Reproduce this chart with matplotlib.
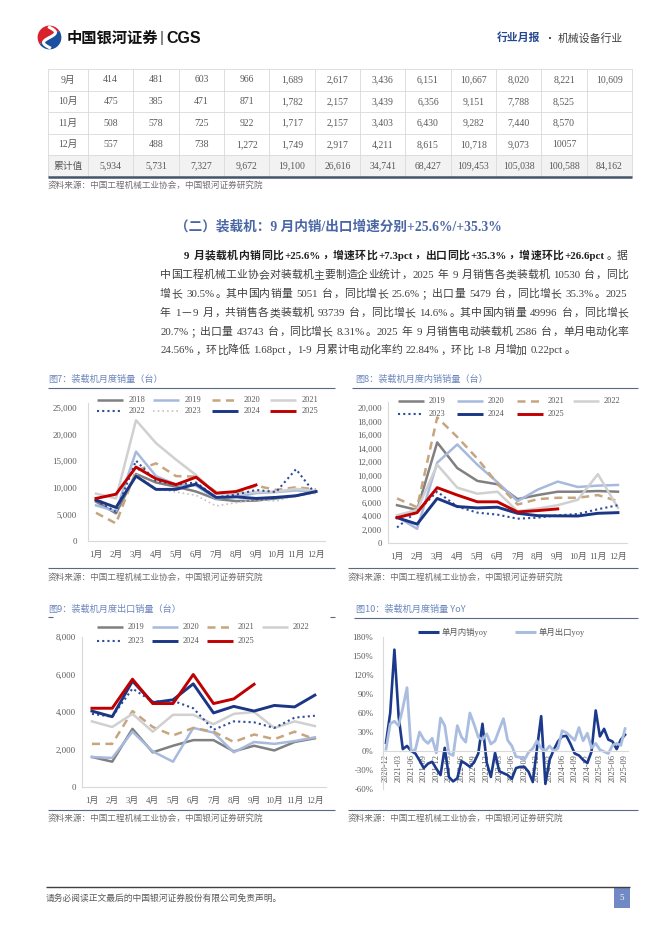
import numpy as np
import matplotlib
matplotlib.use("Agg")
import matplotlib.pyplot as plt
from matplotlib.lines import Line2D
from matplotlib.patches import Rectangle, Wedge

W, H, DPI = 662, 936, 100
SERIF = ["Liberation Serif", "Noto Sans CJK SC", "DejaVu Sans"]
CJK = ["Noto Sans CJK SC", "DejaVu Sans"]
plt.rcParams["font.family"] = SERIF

# ---------------- data ----------------
table_rows = ["9月", "10月", "11月", "12月", "累计值"]
table_sep = ["414", "481", "603", "966", "1,689", "2,617", "3,436", "6,151", "10,667", "8,020", "8,221", "10,609"]
table_oct = ["475", "385", "471", "871", "1,782", "2,157", "3,439", "6,356", "9,151", "7,788", "8,525", ""]
table_nov = ["508", "578", "725", "922", "1,717", "2,157", "3,403", "6,430", "9,282", "7,440", "8,570", ""]
table_dec = ["557", "488", "738", "1,272", "1,749", "2,917", "4,211", "8,615", "10,718", "9,073", "10057", ""]
table_cum = ["5,934", "5,731", "7,327", "9,672", "19,100", "26,616", "34,741", "68,427", "109,453", "105,038", "100,588", "84,162"]

months = ["1月", "2月", "3月", "4月", "5月", "6月", "7月", "8月", "9月", "10月", "11月", "12月"]

# Fig7 total sales
t2018 = [7400, 5200, 12600, 11000, 10200, 9300, 7900, 7500, 7600, 8000, 8500, 9300]
t2019 = [6700, 5600, 16800, 12200, 10600, 10400, 8000, 8300, 9000, 9200, 9500, 9300]
t2020 = [5300, 3300, 13200, 14600, 12200, 12100, 9200, 9000, 10400, 9600, 10100, 9700]
t2021 = [8900, 8000, 22700, 18400, 15300, 12400, 8900, 8900, 9200, 9300, 9800, 9400]
t2022 = [7600, 5500, 15100, 11300, 10600, 11000, 8200, 8700, 9600, 9200, 13500, 8700]
t2023 = [7900, 6400, 12600, 9800, 9200, 8600, 6600, 7200, 7800, 7500, 8500, 9000]
t2024 = [7700, 6300, 12200, 9700, 9700, 10700, 8200, 8300, 8000, 8200, 8500, 9300]
t2025 = [8000, 8800, 13900, 11700, 10600, 12000, 9000, 9300, 10530]

# Fig8 domestic sales
d2019 = [5600, 4900, 14900, 11100, 9200, 8700, 6500, 7100, 7600, 7600, 7700, 7600]
d2020 = [3900, 2100, 11900, 14600, 11600, 9000, 6200, 7900, 9100, 8300, 8500, 8600]
d2021 = [6600, 5300, 18600, 15700, 12500, 8800, 5700, 6500, 6700, 6700, 7100, 6200]
d2022 = [4100, 4900, 11600, 8200, 7300, 7600, 4700, 5100, 5600, 6400, 10200, 5200]
d2023 = [2300, 4700, 7600, 5400, 4500, 4200, 3600, 3750, 4100, 4300, 5000, 5600]
d2024 = [3750, 2800, 6600, 5400, 5200, 5300, 4400, 4050, 4020, 4000, 4400, 4500]
d2025 = [3750, 4500, 8200, 7100, 6100, 6100, 4600, 4800, 5051]

# Fig9 export sales
e2019 = [1600, 1350, 3100, 1850, 2200, 2500, 2500, 1900, 2200, 1950, 2400, 2600]
e2020 = [1600, 1550, 2950, 1900, 1350, 3150, 2900, 1850, 2400, 2300, 2450, 2650]
e2021 = [2300, 2300, 4050, 3200, 2750, 3150, 2950, 2400, 2800, 2550, 2950, 2550]
e2022 = [3500, 3200, 3900, 2950, 3850, 3850, 3350, 3900, 4000, 3150, 3500, 3250]
e2023 = [3900, 3750, 5250, 4550, 4600, 4200, 3050, 3500, 3450, 3150, 3700, 3800]
e2024 = [4050, 3750, 5650, 4500, 4650, 5500, 3950, 4300, 4050, 4350, 4270, 4900]
e2025 = [4200, 4200, 5750, 4450, 4450, 6000, 4450, 4700, 5479]

# Fig10 YoY (%), 2020-12 ... 2025-09
yoy_labels = ["2020-12", "2021-03", "2021-06", "2021-09", "2021-12", "2022-03", "2022-06",
              "2022-09", "2022-12", "2023-03", "2023-06", "2023-09", "2023-12", "2024-03",
              "2024-06", "2024-09", "2024-12", "2025-03", "2025-06", "2025-09"]
dom_yoy = [13, 60, 160, 55, 3, 8, 0, -4, -15, -27, -20, -17, -28,
           -38, 5, -41, -48, -43, -16, -20, -25, -18, -4, 43, -18,
           -41, -3, -32, -35, -38, -44, -27, -25, -25, -33, -49, 4,
           55, -52, -14, 2, 15, 23, 24, 11, -4, -7, -14, -19,
           -1, 64, 23, 35, 18, 15, 3, 18, 25.6]
exp_yoy = [3, 43, 47, 40, 68, 100, 0, 2, 30, 18, 12, 20, -3,
           52, 40, -4, -7, 40, 22, 14, 60, 42, 22, 18, 27,
           11, 16, 34, 51, 17, 8, -9, -10, -14, -2, 4, 16,
           4, 0, 8, 0, 4, 32, 29, 23, 17, 37, 16, 28,
           5, 12, 2, -1, -4, 9, 12, 9, 35.3]

PARA = [
    [("9 月装载机内销同比+25.6%，增速环比+7.3pct，出口同比+35.3%，增速环比+26.6pct", True), ("。据", False)],
    [("中国工程机械工业协会对装载机主要制造企业统计，2025 年 9 月销售各类装载机 10530 台，同比", False)],
    [("增长 30.5%。其中国内销量 5051 台，同比增长 25.6%；出口量 5479 台，同比增长 35.3%。2025", False)],
    [("年 1—9 月，共销售各类装载机 93739 台，同比增长 14.6%。其中国内销量 49996 台，同比增长", False)],
    [("20.7%；出口量 43743 台，同比增长 8.31%。2025 年 9 月销售电动装载机 2586 台，单月电动化率", False)],
    [("24.56%，环比降低 1.68pct，1-9 月累计电动化率约 22.84%，环比 1-8 月增加 0.22pct。", False)],
]

# ---------------- styles ----------------
ST = {
    "gray": dict(color="#808080", lw=1.8),
    "lblue": dict(color="#a7badd", lw=1.8),
    "tan": dict(color="#c6a57f", lw=1.8, ls=(0, (3.2, 2.2))),
    "lgray": dict(color="#d0d0d0", lw=1.8),
    "ndot": dict(color="#2c4c9c", lw=1.5, ls=(0, (1, 1.5))),
    "gdot": dict(color="#c2c2c2", lw=1.2, ls=(0, (1, 1.8))),
    "navy": dict(color="#1a3685", lw=2.1),
    "red": dict(color="#c00000", lw=2.1),
}
TICKC = "#595959"

fig = plt.figure(figsize=(W / DPI, H / DPI), dpi=DPI)
page = fig.add_axes([0, 0, 1, 1])
page.set_xlim(0, W)
page.set_ylim(H, 0)
page.axis("off")


def hline(x0, x1, y, color, lw):
    page.add_line(Line2D([x0, x1], [y, y], color=color, lw=lw, solid_capstyle="butt"))


def txt(x, y, s, size, color="#404040", ha="left", va="center", weight="normal", family=SERIF, **kw):
    return page.text(x, y, s, fontsize=size, color=color, ha=ha, va=va,
                     fontweight=weight, family=family, **kw)


# ---------------- header ----------------
lax = fig.add_axes([37 / W, 1 - 50 / H, 25 / W, 25 / H])
lax.set_xlim(-1.05, 1.05)
lax.set_ylim(-1.05, 1.05)
lax.set_aspect("equal")
lax.axis("off")
lax.add_patch(Wedge((0, 0), 1, 35, 215, color="#d8232d", lw=0))
lax.add_patch(Wedge((0, 0), 1, 215, 395, color="#1d4f9f", lw=0))
ss = np.linspace(-np.pi, np.pi, 60)
lax.plot(-0.5 * np.sin(ss), np.linspace(0.85, -0.85, 60), color="white", lw=2.2)

txt(67, 38, "中国银河证券", 11, "#111111", weight="bold", family=CJK)
txt(160, 38, "|", 11, "#444444", family=["Liberation Sans"])
txt(166, 38.5, "CGS", 11.5, "#111111", weight="bold", family=["Liberation Sans"])
txt(497, 38, "行业月报", 7.8, "#24478f", weight="bold", family=CJK)
page.add_patch(Rectangle((548.5, 37), 2, 2, color="#555555", lw=0))
txt(558, 38, "机械设备行业", 7.8, "#404040", family=CJK)

# ---------------- table ----------------
table_vals = [table_sep, table_oct, table_nov, table_dec, table_cum]
col_edges = [48, 88] + [88 + (632 - 88) / 12 * k for k in range(1, 13)]
row_edges = [69, 91, 112, 134, 155, 177]
page.add_patch(Rectangle((48, row_edges[4]), 584, row_edges[5] - row_edges[4], color="#f2f2f2", lw=0))
for y in row_edges[:-1]:
    hline(48, 632, y, "#d9d9d9", 0.6)
for x in col_edges:
    page.add_line(Line2D([x, x], [row_edges[0], row_edges[-1]], color="#d9d9d9", lw=0.6))
hline(48, 632, row_edges[-1], "#44546a", 1.8)
for r, (lab, vals) in enumerate(zip(table_rows, table_vals)):
    yc = (row_edges[r] + row_edges[r + 1]) / 2
    txt((col_edges[0] + col_edges[1]) / 2, yc, lab, 7, TICKC, ha="center")
    for c, v in enumerate(vals):
        txt((col_edges[c + 1] + col_edges[c + 2]) / 2, yc, v, 7, TICKC, ha="center")

SRC = "资料来源：中国工程机械工业协会，中国银河证券研究院"
txt(48, 185, SRC, 6.2, "#6f6f6f", family=CJK)

# ---------------- heading + paragraph ----------------
txt(175, 227, "（二）装载机：9 月内销/出口增速分别+25.6%/+35.3%", 9.8, "#4a67a5", weight="bold")

renderer = fig.canvas.get_renderer()
PSIZE = 7.8
PX = PSIZE * DPI / 72.0


def tokenize(segs):
    out = []
    for s, b in segs:
        buf = ""
        for ch in s:
            if ch == " ":
                if buf:
                    out.append((buf, b, "lat"))
                    buf = ""
                out.append((" ", b, "sp"))
            elif ord(ch) >= 0x2000:
                if buf:
                    out.append((buf, b, "lat"))
                    buf = ""
                out.append((ch, b, "cjk"))
            else:
                buf += ch
        if buf:
            out.append((buf, b, "lat"))
    return out


def para_line(x0, x1, yc, segs, justify=True):
    toks = tokenize(segs)
    yb = yc + 0.36 * PX
    items = []
    for s, b, kind in toks:
        col = "#1f1f1f" if b else "#404040"
        wt = "bold" if b else "normal"
        if kind == "sp":
            items.append((None, 0.28 * PX, 0))
        elif kind == "cjk":
            if s in "，。；：、":
                t = page.text(0, yb, s, fontsize=PSIZE, color=col, fontweight=wt, family=CJK,
                              ha="left", va="baseline")
                items.append((t, PX, 0.06 * PX))
            else:
                t = page.text(0, yb, s, fontsize=PSIZE, color=col, fontweight=wt, family=CJK,
                              ha="center", va="baseline")
                items.append((t, PX, 0.5 * PX))
        else:
            t = page.text(0, yb, s, fontsize=PSIZE, color=col, fontweight=wt, family=SERIF,
                          ha="left", va="baseline")
            w = t.get_window_extent(renderer).width
            items.append((t, w + 0.12 * PX, 0.06 * PX))
    total = sum(w for _, w, _ in items)
    gap = (x1 - x0 - total) / (len(items) - 1) if justify else 0.0
    x = x0
    for t, w, off in items:
        if t is not None:
            t.set_x(x + off)
        x += w + gap


line_y = [255, 274, 293, 312, 331, 349.5]
for i, segs in enumerate(PARA):
    x0 = 183 if i == 0 else 160
    para_line(x0, 628, line_y[i], segs, justify=(i < len(PARA) - 1))


# ---------------- chart helpers ----------------
def add_ax(l, t, r, b):
    ax = fig.add_axes([l / W, 1 - b / H, (r - l) / W, (b - t) / H])
    ax.patch.set_alpha(0)
    for s in ["top", "right"]:
        ax.spines[s].set_visible(False)
    for s in ["left", "bottom"]:
        ax.spines[s].set_color("#d9d9d9")
        ax.spines[s].set_linewidth(0.8)
    ax.tick_params(length=0, colors=TICKC)
    return ax


def title_block(x, y, text, lx0, lx1, ly, ends_only=False):
    txt(x, y, text, 6.6, "#6d86bd", family=CJK)
    if ends_only:
        hline(lx0, lx0 + 5, ly, "#5a6a85", 0.8)
        hline(lx1 - 5, lx1, ly, "#5a6a85", 0.8)
    else:
        hline(lx0, lx1, ly, "#5a6a85", 0.8)


def source_block(x, y, lx0, lx1, ly):
    hline(lx0, lx1, ly, "#5a6a85", 0.8)
    txt(x, y, SRC, 6.2, "#6f6f6f", family=CJK)


def manual_legend(entries, xs, ys, length=26, off=31):
    k = 0
    for (lab, st) in entries:
        r, c = divmod(k, len(xs))
        x, y = xs[c], ys[r]
        page.add_line(Line2D([x, x + length], [y, y], solid_capstyle="butt", **ST[st]))
        txt(x + off, y, lab, 6.0, TICKC)
        k += 1


def year_chart(ax, series, ymax_tick, ystep, ylim, xlim, ypad, xpad):
    for lab, vals, st in series:
        ax.plot(np.arange(len(vals)), vals, solid_joinstyle="round", **ST[st])
    ax.set_xlim(*xlim)
    ax.set_ylim(*ylim)
    ax.set_xticks(np.arange(12))
    ax.set_xticklabels(months, fontsize=6.3, color=TICKC, family=SERIF)
    yt = np.arange(0, ymax_tick + 1, ystep)
    ax.set_yticks(yt)
    ax.set_yticklabels([f"{v:,}" for v in yt], fontsize=6.3, color=TICKC, family=SERIF)
    ax.tick_params(axis="y", pad=ypad)
    ax.tick_params(axis="x", pad=xpad)


# ---------------- Fig7 ----------------
title_block(48, 379, "图7：装载机月度销量（台）", 48, 335, 388)
ax7 = add_ax(88, 403, 325, 541)
s7 = [("2018", t2018, "gray"), ("2019", t2019, "lblue"), ("2020", t2020, "tan"),
      ("2021", t2021, "lgray"), ("2022", t2022, "ndot"), ("2023", t2023, "gdot"),
      ("2024", t2024, "navy"), ("2025", t2025, "red")]
year_chart(ax7, s7, 25000, 5000, (0, 25940), (-0.4, 11.45), 8, 7)
manual_legend([(a, c) for a, _, c in s7], [97, 153, 212, 270], [400, 411], off=32)
source_block(48, 577, 48, 335, 568)

# ---------------- Fig8 ----------------
title_block(355, 379, "图8：装载机月度内销销量（台）", 352, 638, 388)
ax8 = add_ax(388, 402, 627, 543)
s8 = [("2019", d2019, "gray"), ("2020", d2020, "lblue"), ("2021", d2021, "tan"),
      ("2022", d2022, "lgray"), ("2023", d2023, "ndot"), ("2024", d2024, "navy"),
      ("2025", d2025, "red")]
year_chart(ax8, s8, 20000, 2000, (0, 20890), (-0.45, 11.45), 4.5, 7)
manual_legend([(a, c) for a, _, c in s8], [398, 457, 517, 573], [401, 414])
source_block(348, 577, 348, 638, 568)

# ---------------- Fig9 ----------------
title_block(48, 609, "图9：装载机月度出口销量（台）", 48, 335, 617, ends_only=True)
ax9 = add_ax(82, 637, 326, 787)
s9 = [("2019", e2019, "gray"), ("2020", e2020, "lblue"), ("2021", e2021, "tan"),
      ("2022", e2022, "lgray"), ("2023", e2023, "ndot"), ("2024", e2024, "navy"),
      ("2025", e2025, "red")]
year_chart(ax9, s9, 8000, 2000, (0, 8000), (-0.49, 11.55), 4.5, 7)
manual_legend([(a, c) for a, _, c in s9], [97, 152, 207, 262], [627, 641])
source_block(48, 818, 48, 335, 810)

# ---------------- Fig10 ----------------
title_block(356, 609, "图10：装载机月度销量 YoY", 354, 638, 618)
ax10 = add_ax(383, 637, 628, 789)
xx = np.arange(len(dom_yoy))
ax10.plot(xx, dom_yoy, color="#1b3a8c", lw=1.9, solid_joinstyle="round")
ax10.plot(xx, exp_yoy, color="#a9bde0", lw=2.0, solid_joinstyle="round")
ax10.set_xlim(-0.72, 57.7)
ax10.set_ylim(-60, 180)
ax10.spines["bottom"].set_position(("data", 0))
ax10.set_xticks(np.arange(0, len(dom_yoy), 3))
ax10.set_xticklabels(yoy_labels, rotation=90, fontsize=6.0, color=TICKC, family=SERIF)
yt10 = np.arange(-60, 181, 30)
ax10.set_yticks(yt10)
ax10.set_yticklabels([f"{v}%" for v in yt10], fontsize=6.3, color=TICKC, family=SERIF)
ax10.tick_params(axis="y", pad=7)
ax10.tick_params(axis="x", pad=2)
page.add_line(Line2D([418, 439], [632, 632], color="#1b3a8c", lw=2.2, solid_capstyle="butt"))
txt(442, 632, "单月内销yoy", 6.0, TICKC)
page.add_line(Line2D([515, 536], [632, 632], color="#a9bde0", lw=2.2, solid_capstyle="butt"))
txt(539, 632, "单月出口yoy", 6.0, TICKC)
source_block(348, 818, 348, 638, 810)

# ---------------- footer ----------------
hline(46, 630, 887, "#404040", 1.0)
txt(46, 898, "请务必阅读正文最后的中国银河证券股份有限公司免责声明。", 6.3, "#595959", family=CJK)
page.add_patch(Rectangle((614, 887), 16, 21, color="#7189c4", lw=0))
txt(622, 897.5, "5", 6.5, "white", ha="center")

fig.savefig("out.png", dpi=DPI)
